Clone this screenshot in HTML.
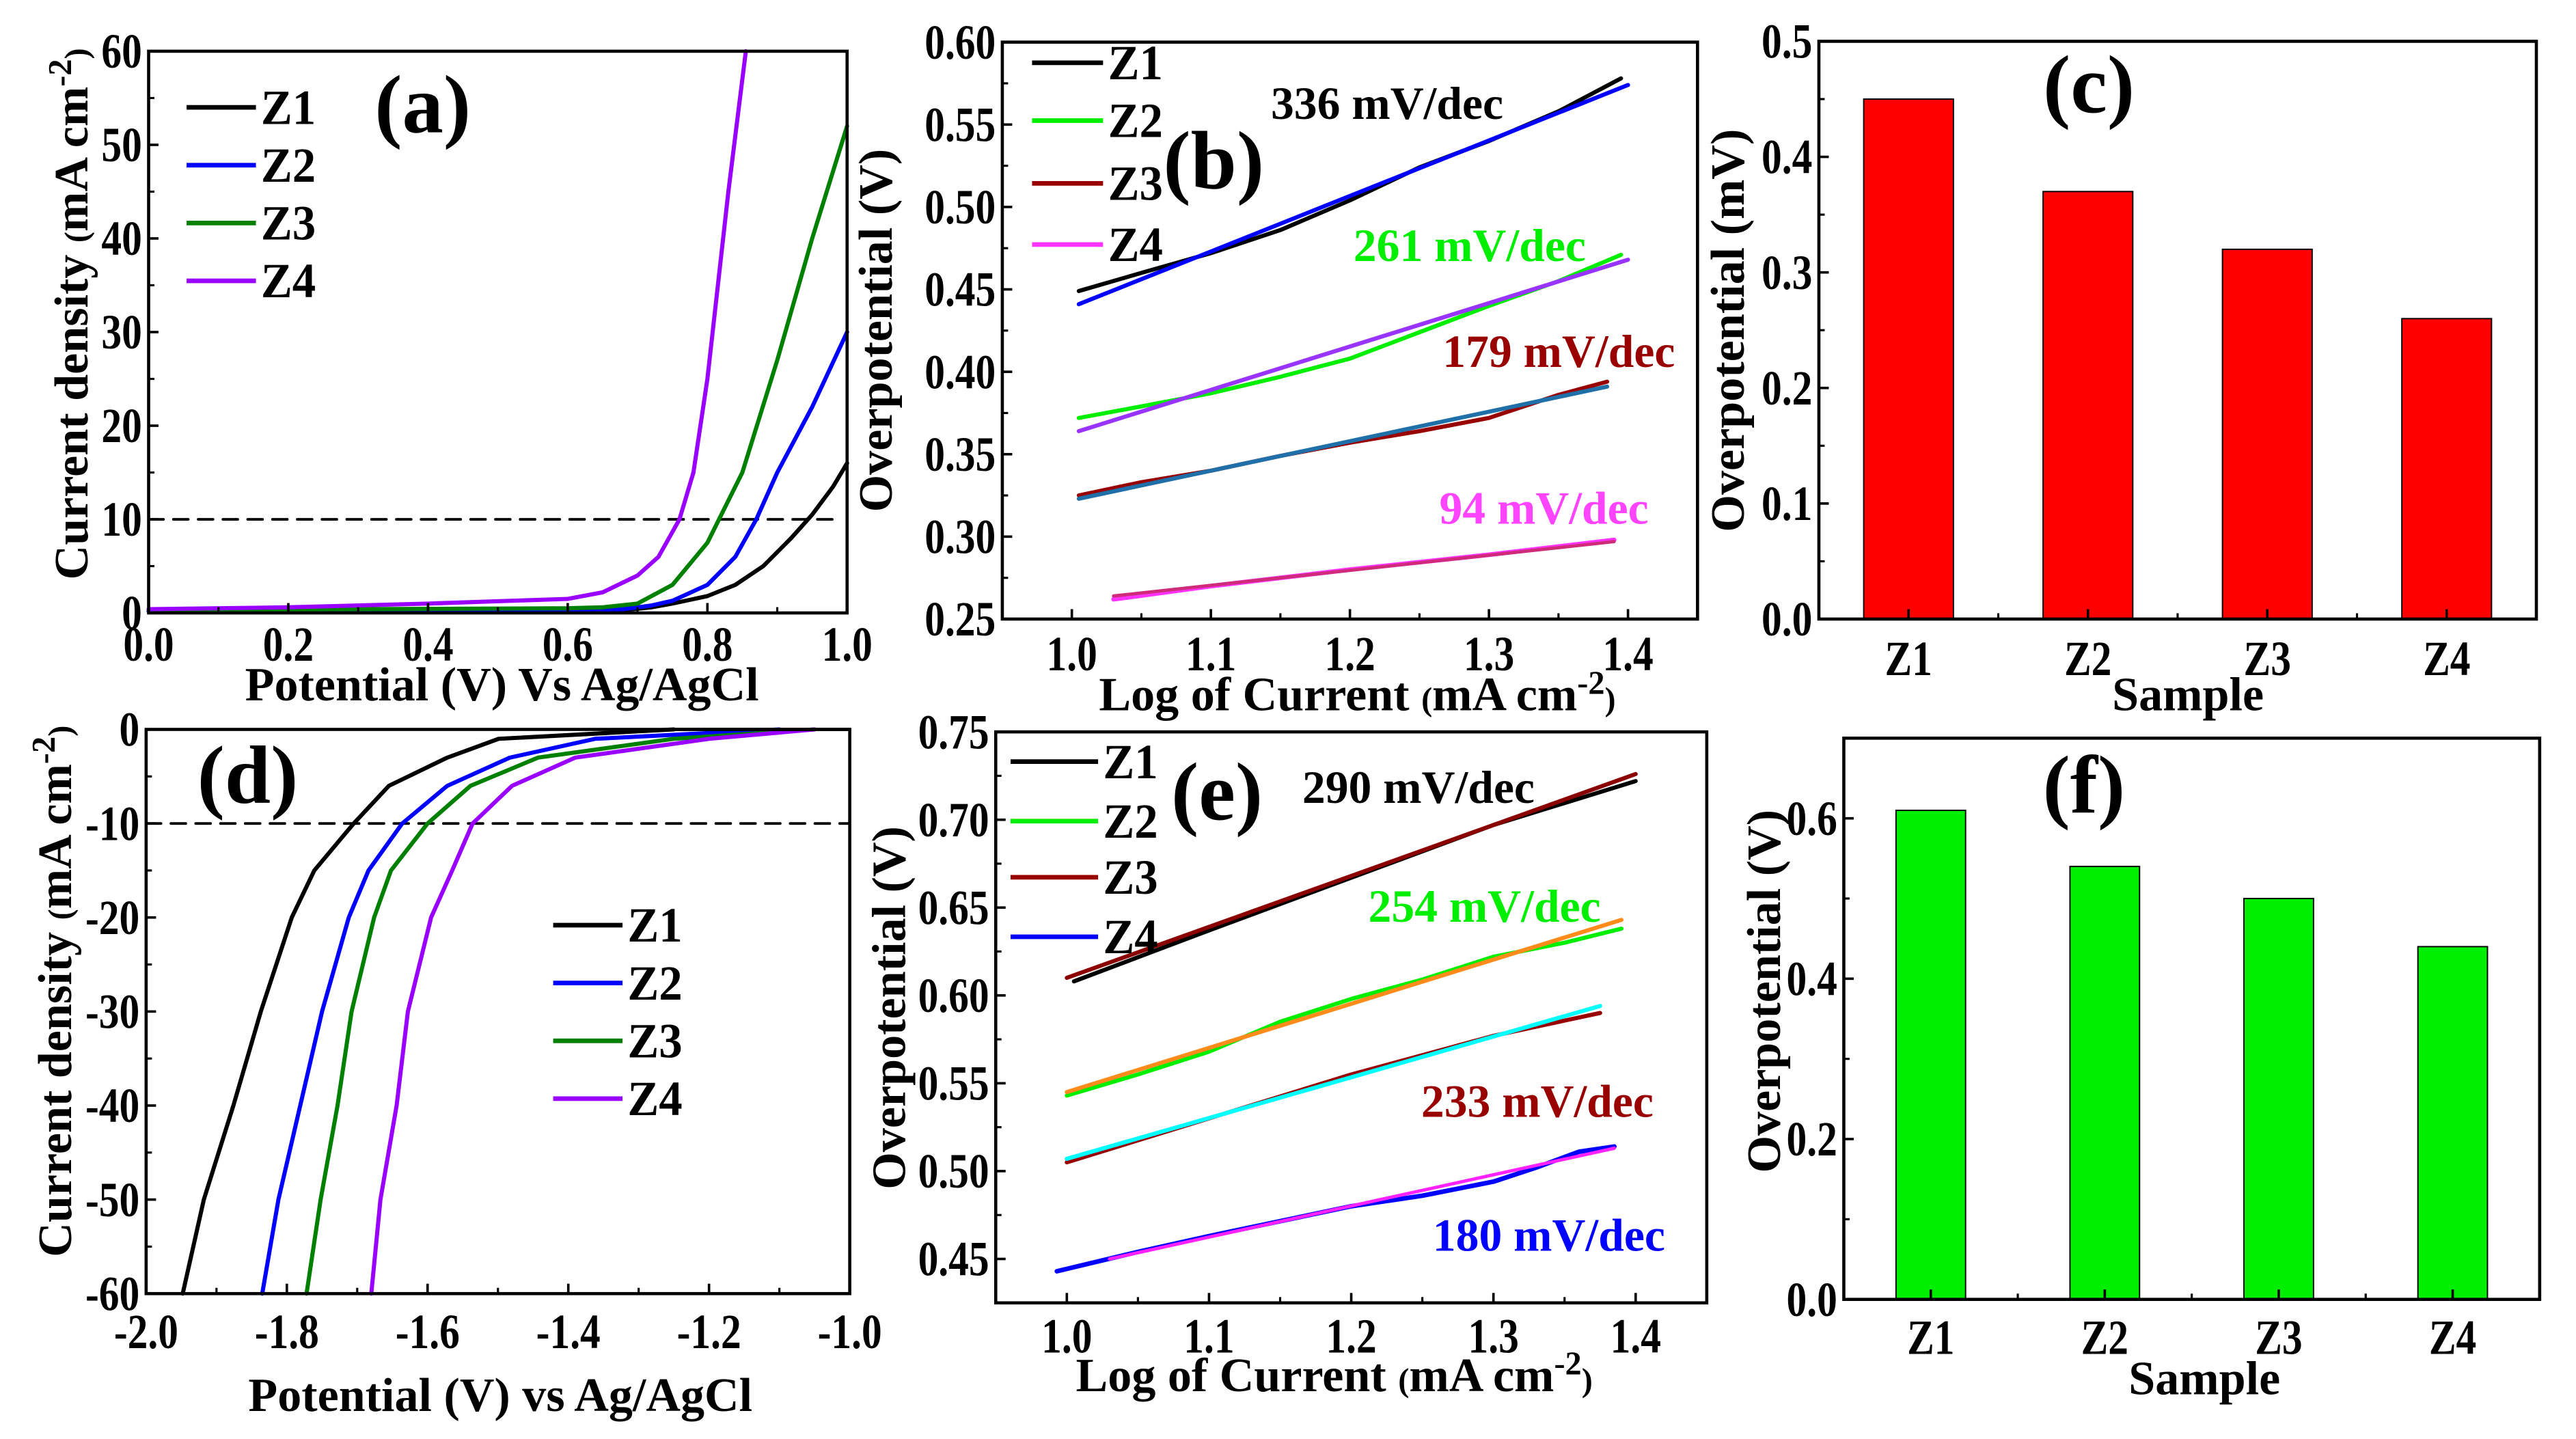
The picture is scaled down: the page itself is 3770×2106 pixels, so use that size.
<!DOCTYPE html>
<html><head><meta charset="utf-8">
<style>
html,body{margin:0;padding:0;background:#fff;}
svg{display:block;}
text{font-family:"Liberation Serif",serif;font-weight:bold;}
</style></head>
<body>
<svg id="fig" xmlns="http://www.w3.org/2000/svg" width="3770" height="2106" viewBox="0 0 1560 871" preserveAspectRatio="none"></svg>
<script>
// ---------- Panel (a) data: OER LSV ----------
const aX_Z1 = [0,0.3,0.6,0.68,0.72,0.75,0.8,0.84,0.88,0.92,0.95,0.98,1.0];
const aY_Z1 = [0.2,0.2,0.2,0.3,0.6,1,1.8,3,5,8,10.5,13.5,16];
const aX_Z2 = [0,0.3,0.6,0.68,0.72,0.75,0.8,0.84,0.87,0.9,0.95,1.0];
const aY_Z2 = [0.2,0.2,0.3,0.4,0.8,1.3,3,6,10,15,22,30];
const aX_Z3 = [0,0.3,0.6,0.65,0.7,0.75,0.8,0.85,0.9,0.95,1.0];
const aY_Z3 = [0.3,0.4,0.5,0.6,1,3,7.5,15,27,40,52];
const aX_Z4 = [0,0.2,0.4,0.6,0.65,0.7,0.73,0.76,0.78,0.8,0.83,0.855];
const aY_Z4 = [0.4,0.6,1,1.5,2.2,4,6,10,15,25,45,60];
const aYTicks = [0,10,20,30,40,50,60];
const aXTicks = [0,0.2,0.4,0.6,0.8,1.0];
const aXLabels = ["0.0","0.2","0.4","0.6","0.8","1.0"];
// ---------- Panel (b) data: OER Tafel ----------
const bX_Z1 = [1.005,1.05,1.1,1.15,1.2,1.25,1.3,1.35,1.395];
const bY_Z1 = [0.449,0.46,0.472,0.486,0.504,0.524,0.54,0.558,0.578];
const bFit1X = [1.005,1.4]; const bFit1Y = [0.441,0.574];
const bX_Z2 = [1.005,1.05,1.1,1.15,1.2,1.25,1.3,1.35,1.395];
const bY_Z2 = [0.372,0.379,0.387,0.397,0.408,0.424,0.44,0.455,0.471];
const bFit2X = [1.005,1.4]; const bFit2Y = [0.364,0.468];
const bX_Z3 = [1.005,1.05,1.1,1.15,1.2,1.25,1.3,1.35,1.385];
const bY_Z3 = [0.325,0.333,0.34,0.349,0.357,0.364,0.372,0.386,0.394];
const bFit3X = [1.005,1.385]; const bFit3Y = [0.323,0.391];
const bX_Z4 = [1.03,1.1,1.2,1.3,1.39];
const bY_Z4 = [0.262,0.27,0.28,0.289,0.298];
const bFit4X = [1.03,1.39]; const bFit4Y = [0.264,0.297];
const bYTicks = [0.25,0.30,0.35,0.40,0.45,0.50,0.55,0.60];
const bXTicks = [1.0,1.1,1.2,1.3,1.4];
// ---------- Panel (c) data ----------
const cCats = ["Z1","Z2","Z3","Z4"];
const cVals = [0.45,0.37,0.32,0.26];
const cYTicks = [0,0.1,0.2,0.3,0.4,0.5];
// ---------- Panel (d) data: HER LSV ----------
const dY = [-60,-50,-40,-30,-20,-15,-10,-6,-3,-1,0];
const dX_Z1 = [-1.948,-1.918,-1.876,-1.837,-1.793,-1.761,-1.705,-1.655,-1.572,-1.499,-1.25];
const dX_Z2 = [-1.835,-1.812,-1.781,-1.750,-1.712,-1.684,-1.636,-1.572,-1.483,-1.362,-1.1];
const dX_Z3 = [-1.772,-1.752,-1.728,-1.708,-1.676,-1.652,-1.600,-1.539,-1.443,-1.25,-1.05];
const dX_Z4 = [-1.680,-1.667,-1.644,-1.628,-1.595,-1.565,-1.536,-1.480,-1.390,-1.2,-1.05];
const dYTicks = [-60,-50,-40,-30,-20,-10,0];
const dXTicks = [-2.0,-1.8,-1.6,-1.4,-1.2,-1.0];
// ---------- Panel (e) data: HER Tafel ----------
const eX_Z1 = [1.005,1.1,1.2,1.3,1.4];
const eY_Z1 = [0.608,0.637,0.667,0.697,0.722];
const eFit1X = [1.0,1.4]; const eFit1Y = [0.61,0.726];
const eX_Z2 = [1.0,1.05,1.1,1.15,1.2,1.25,1.3,1.35,1.39];
const eY_Z2 = [0.543,0.555,0.568,0.585,0.598,0.609,0.622,0.63,0.638];
const eFit2X = [1.0,1.39]; const eFit2Y = [0.545,0.643];
const eX_Z3 = [1.0,1.1,1.2,1.3,1.375];
const eY_Z3 = [0.505,0.53,0.555,0.577,0.59];
const eFit3X = [1.0,1.375]; const eFit3Y = [0.507,0.594];
const eX_Z4 = [0.993,1.05,1.1,1.2,1.25,1.3,1.33,1.36,1.385];
const eY_Z4 = [0.443,0.454,0.463,0.48,0.486,0.494,0.502,0.511,0.514];
const eFit4X = [1.03,1.385]; const eFit4Y = [0.45,0.513];
const eYTicks = [0.45,0.50,0.55,0.60,0.65,0.70,0.75];
const eXTicks = [1.0,1.1,1.2,1.3,1.4];
// ---------- Panel (f) data ----------
const fCats = ["Z1","Z2","Z3","Z4"];
const fVals = [0.61,0.54,0.50,0.44];
const fYTicks = [0,0.2,0.4,0.6];

const NS = "http://www.w3.org/2000/svg";
const svg = document.getElementById('fig');
function el(tag, attrs, parent){
  const e = document.createElementNS(NS, tag);
  for (const k in attrs) e.setAttribute(k, attrs[k]);
  (parent||svg).appendChild(e);
  return e;
}
function txt(parent, x, y, s, size, anchor, fill, rot, sc){
  const k = sc===undefined ? 0.82 : sc;
  const t = document.createElementNS(NS,'text');
  t.setAttribute('font-size', size);
  t.setAttribute('text-anchor', anchor||'middle');
  t.setAttribute('fill', fill||'#000');
  t.setAttribute('transform', rot ? `translate(${x},${y}) rotate(-90) scale(1,${k})` : `translate(${x},${y}) scale(${k},1)`);
  t.textContent = s;
  parent.appendChild(t);
  return t;
}
function makeAxes(name, box, xd, yd){
  const g = el('g',{});
  
  
  const sx = v => box.x0 + (v - xd[0])/(xd[1]-xd[0])*(box.x1-box.x0);
  const sy = v => box.y1 - (v - yd[0])/(yd[1]-yd[0])*(box.y1-box.y0);
  return {g, sx, sy, box};
}
function frame(ax){
  const b = ax.box;
  const r = el('rect',{x:b.x0,y:b.y0,width:b.x1-b.x0,height:b.y1-b.y0,fill:'none',stroke:'#000','stroke-width':1.9}, ax.g);
  
  
}
function yTicks(ax, ticks, labels, minor){
  const b = ax.box;
  ticks.forEach((v,i)=>{
    const y = ax.sy(v);
    el('line',{x1:b.x0,x2:b.x0+6,y1:y,y2:y,stroke:'#000','stroke-width':1.5},ax.g);
    const t = txt(ax.g, b.x0-4, y+10, labels[i], 30, 'end');
    
    
  });
  (minor||[]).forEach(v=>{
    const y = ax.sy(v);
    el('line',{x1:b.x0,x2:b.x0+3.5,y1:y,y2:y,stroke:'#000','stroke-width':1.3},ax.g);
  });
}
function xTicks(ax, ticks, labels, minor, dy){
  const b = ax.box;
  ticks.forEach((v,i)=>{
    const x = ax.sx(v);
    el('line',{x1:x,x2:x,y1:b.y1,y2:b.y1-6,stroke:'#000','stroke-width':1.5},ax.g);
    const t = txt(ax.g, x, b.y1+(dy||27), labels[i], 30, 'middle');
    
    
  });
  (minor||[]).forEach(v=>{
    const x = ax.sx(v);
    el('line',{x1:x,x2:x,y1:b.y1,y2:b.y1-3.5,stroke:'#000','stroke-width':1.3},ax.g);
  });
}
function series(ax, xs, ys, color, name, w){
  const d = xs.map((x,i)=>(i?'L':'M')+ax.sx(x).toFixed(2)+','+ax.sy(ys[i]).toFixed(2)).join(' ');
  const p = el('path',{d, fill:'none', stroke:color, 'stroke-width':w||2.5,'stroke-linejoin':'round','stroke-linecap':'round'}, ax.g);
  
  
  return p;
}
function legend(ax, x0, x1, ys, colors, labels){
  const lg = el('g',{}, ax.g);
  
  
  ys.forEach((y,i)=>{
    const e = el('g',{}, lg);
    
    
    el('line',{x1:x0,x2:x1,y1:y,y2:y,stroke:colors[i],'stroke-width':2.8},e);
    txt(e, x1+3, y+10, labels[i], 30, 'start', '#000', false, 0.95);
  });
}
function label(ax, x, y, s, size, color, name, sc){
  const t = txt(ax.g, x, y, s, size, 'middle', color, false, sc===undefined?1:sc);
  
  
  return t;
}
function ylabel(ax, x, y, s, name){
  const t = txt(ax.g, x, y, s, 29, 'middle', '#000', true, 1);
  
  
  return t;
}
const range = (a,b,s)=>{const r=[];for(let v=a;v<=b+1e-9;v+=s)r.push(+v.toFixed(4));return r;};
const UNIT = 'mA cm<tspan font-size="20" dy="-10">-2</tspan><tspan font-size="20" dy="10">)</tspan>';

// ===== Panel a =====
(function(){
  const ax = makeAxes('panel-a-oer-lsv', {x0:90,x1:513,y0:31,y1:371}, [0,1], [0,60]);
  series(ax,[0,0.98],[10,10],'#000','reference-line-10',1.6).setAttribute('stroke-dasharray','9,6');
  series(ax,aX_Z1,aY_Z1,'#000','line-z1');
  series(ax,aX_Z2,aY_Z2,'#0000ff','line-z2');
  series(ax,aX_Z3,aY_Z3,'#008000','line-z3');
  series(ax,aX_Z4,aY_Z4,'#9900ff','line-z4');
  frame(ax);
  yTicks(ax,aYTicks,aYTicks.map(String),range(5,55,10));
  xTicks(ax,aXTicks,aXLabels,range(0.1,0.9,0.2),29);
  legend(ax,113,155,[65,100,135,170],['#000','#0000ff','#008000','#9900ff'],['Z1','Z2','Z3','Z4']);
  label(ax,256,80,'(a)',50,'#000','panel-label-a');
  label(ax,304,424,'Potential (V) Vs Ag/AgCl',29,'#000','x-axis-title');
  const yt = ylabel(ax,53,190,'','y-axis-title');
  yt.innerHTML = 'Current density <tspan font-size="20">(</tspan>' + UNIT;
})();

// ===== Panel b =====
(function(){
  const ax = makeAxes('panel-b-oer-tafel', {x0:607,x1:1028,y0:25.5,y1:374.7}, [0.95,1.45], [0.25,0.60]);
  series(ax,bX_Z1,bY_Z1,'#000','line-z1');
  series(ax,bFit1X,bFit1Y,'#0000ff','fit-z1');
  series(ax,bX_Z2,bY_Z2,'#00ee00','line-z2');
  series(ax,bFit2X,bFit2Y,'#9933ff','fit-z2');
  series(ax,bX_Z3,bY_Z3,'#990000','line-z3');
  series(ax,bFit3X,bFit3Y,'#1f6fa8','fit-z3');
  series(ax,bX_Z4,bY_Z4,'#ff33ff','line-z4',2.8);
  series(ax,bFit4X,bFit4Y,'#d02a7a','fit-z4',2);
  frame(ax);
  yTicks(ax,bYTicks,bYTicks.map(v=>v.toFixed(2)),range(0.275,0.575,0.05));
  xTicks(ax,bXTicks,bXTicks.map(v=>v.toFixed(1)),range(1.05,1.35,0.1),31);
  legend(ax,625,668,[38,73,111,148],['#000','#00ee00','#990000','#ff33ff'],['Z1','Z2','Z3','Z4']);
  label(ax,735,114,'(b)',50,'#000','panel-label-b');
  label(ax,840,72,'336 mV/dec',28,'#000','slope-label-z1');
  label(ax,890,158,'261 mV/dec',28,'#00ee00','slope-label-z2');
  label(ax,944,222,'179 mV/dec',28,'#990000','slope-label-z3');
  label(ax,935,317,'94 mV/dec',28,'#ff44ff','slope-label-z4');
  const xt = label(ax,822,430,'',29,'#000','x-axis-title');
  xt.innerHTML = 'Log of Current <tspan font-size="20">(</tspan>' + UNIT;
  ylabel(ax,540,200,'Overpotential (V)','y-axis-title');
})();

// ===== Panel c =====
(function(){
  const ax = makeAxes('panel-c-oer-bars', {x0:1101.5,x1:1536,y0:25,y1:374.7}, [0.5,4.5], [0,0.5]);
  cVals.forEach((v,i)=>{
    const x0 = ax.sx(i+1-0.25), x1 = ax.sx(i+1+0.25);
    const r = el('rect',{x:x0,y:ax.sy(v),width:x1-x0,height:ax.sy(0)-ax.sy(v),fill:'#ff0000',stroke:'#000','stroke-width':0.8},ax.g);
    
    
  });
  frame(ax);
  yTicks(ax,cYTicks,cYTicks.map(v=>v.toFixed(1)),range(0.05,0.45,0.1));
  xTicks(ax,[1,2,3,4],cCats,[1.5,2.5,3.5],34);
  label(ax,1265,68,'(c)',50,'#000','panel-label-c');
  label(ax,1325,430,'Sample',29,'#000','x-axis-title');
  ylabel(ax,1056,200,'Overpotential (mV)','y-axis-title');
})();

// ===== Panel d =====
(function(){
  const ax = makeAxes('panel-d-her-lsv', {x0:88.5,x1:514.6,y0:441.5,y1:783}, [-2,-1], [-60,0]);
  series(ax,[-2,-1],[-10,-10],'#000','reference-line-minus-10',1.6).setAttribute('stroke-dasharray','9,6');
  series(ax,dX_Z1,dY,'#000','line-z1');
  series(ax,dX_Z2,dY,'#0000ff','line-z2');
  series(ax,dX_Z3,dY,'#008000','line-z3');
  series(ax,dX_Z4,dY,'#9900ff','line-z4');
  series(ax,[-1.25,-1.0],[0,0],'#000','baseline',2);
  frame(ax);
  yTicks(ax,dYTicks,dYTicks.map(String),range(-55,-5,10));
  xTicks(ax,dXTicks,dXTicks.map(v=>v.toFixed(1)),range(-1.9,-1.1,0.2),33);
  legend(ax,335,377,[560,595,630,665],['#000','#0000ff','#008000','#9900ff'],['Z1','Z2','Z3','Z4']);
  label(ax,150,486,'(d)',50,'#000','panel-label-d');
  label(ax,303,854,'Potential (V) vs Ag/AgCl',29,'#000','x-axis-title');
  const yt = ylabel(ax,43,600,'','y-axis-title');
  yt.innerHTML = 'Current density <tspan font-size="20">(</tspan>' + UNIT;
})();

// ===== Panel e =====
(function(){
  const ax = makeAxes('panel-e-her-tafel', {x0:603,x1:1033.6,y0:443,y1:788.6}, [0.95,1.45], [0.425,0.75]);
  series(ax,eX_Z1,eY_Z1,'#000','line-z1');
  series(ax,eFit1X,eFit1Y,'#8b0000','fit-z1');
  series(ax,eX_Z2,eY_Z2,'#00ee00','line-z2');
  series(ax,eFit2X,eFit2Y,'#ff8c1a','fit-z2');
  series(ax,eX_Z3,eY_Z3,'#990000','line-z3');
  series(ax,eFit3X,eFit3Y,'#00ffff','fit-z3');
  series(ax,eX_Z4,eY_Z4,'#0000ff','line-z4',2.8);
  series(ax,eFit4X,eFit4Y,'#ff22ff','fit-z4',2);
  frame(ax);
  yTicks(ax,eYTicks,eYTicks.map(v=>v.toFixed(2)),range(0.475,0.725,0.05));
  xTicks(ax,eXTicks,eXTicks.map(v=>v.toFixed(1)),range(1.05,1.35,0.1),30);
  legend(ax,612,665,[461,497,531,567],['#000','#00ee00','#990000','#0000ff'],['Z1','Z2','Z3','Z4']);
  label(ax,737,496,'(e)',50,'#000','panel-label-e');
  label(ax,859,486,'290 mV/dec',28,'#000','slope-label-z1');
  label(ax,899,558,'254 mV/dec',28,'#00ee00','slope-label-z2');
  label(ax,931,676,'233 mV/dec',28,'#990000','slope-label-z3');
  label(ax,938,757,'180 mV/dec',28,'#0000ff','slope-label-z4');
  const xt = label(ax,808,842,'',29,'#000','x-axis-title');
  xt.innerHTML = 'Log of Current <tspan font-size="20">(</tspan>' + UNIT;
  ylabel(ax,548,610,'Overpotential (V)','y-axis-title');
})();

// ===== Panel f =====
(function(){
  const ax = makeAxes('panel-f-her-bars', {x0:1116.6,x1:1538,y0:446.8,y1:786.5}, [0.5,4.5], [0,0.7]);
  fVals.forEach((v,i)=>{
    const x0 = ax.sx(i+1-0.2), x1 = ax.sx(i+1+0.2);
    const r = el('rect',{x:x0,y:ax.sy(v),width:x1-x0,height:ax.sy(0)-ax.sy(v),fill:'#00ee00',stroke:'#000','stroke-width':0.8},ax.g);
    
    
  });
  frame(ax);
  yTicks(ax,fYTicks,fYTicks.map(v=>v.toFixed(1)),range(0.1,0.7,0.2));
  xTicks(ax,[1,2,3,4],fCats,[1.5,2.5,3.5],33);
  label(ax,1262,492,'(f)',50,'#000','panel-label-f');
  label(ax,1335,844,'Sample',29,'#000','x-axis-title');
  ylabel(ax,1078,600,'Overpotential (V)','y-axis-title');
})();
</script>
</body></html>
